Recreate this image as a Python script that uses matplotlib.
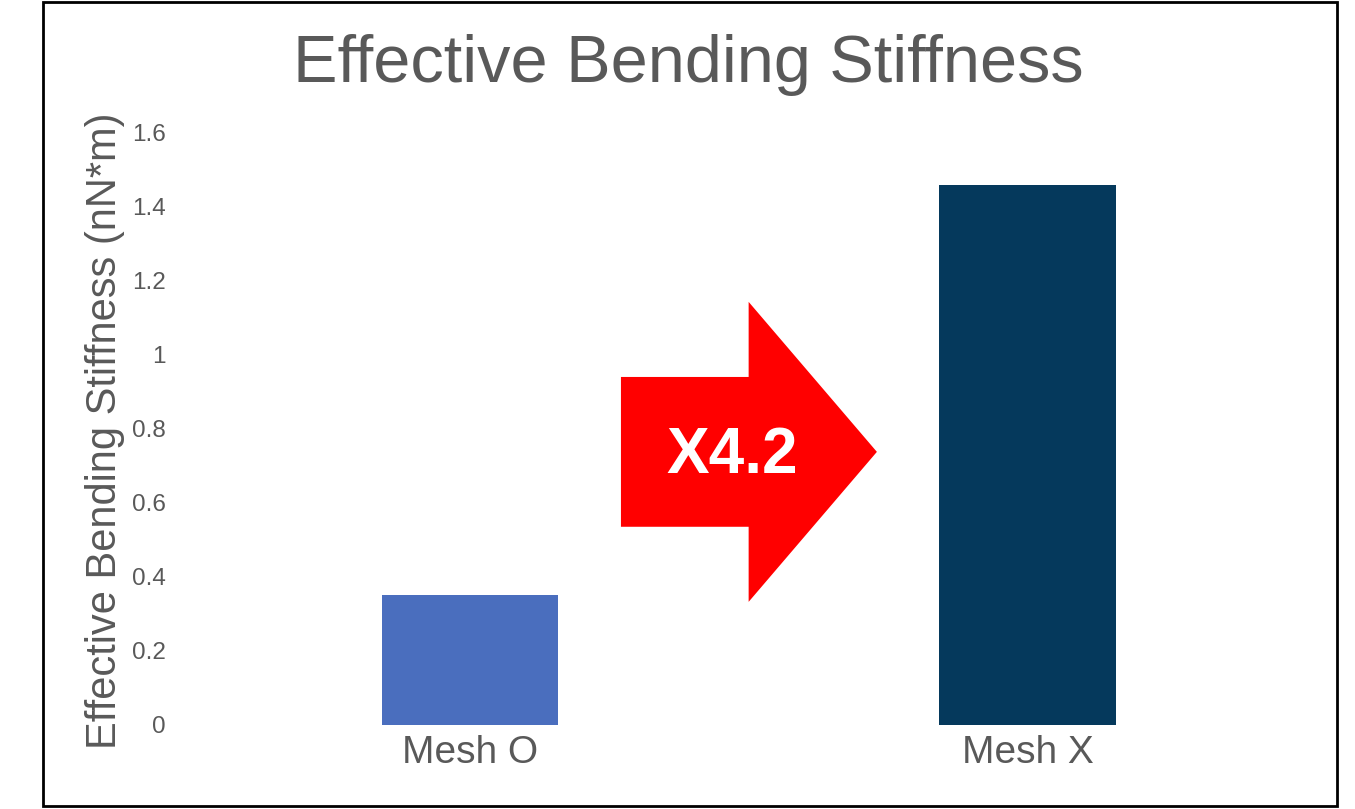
import matplotlib
matplotlib.use("Agg")
import matplotlib.pyplot as plt
from matplotlib.patches import Rectangle, FancyArrow

plt.rcParams['font.family'] = ['Liberation Sans', 'DejaVu Sans']

categories = ["Mesh O", "Mesh X"]
stiffness = [0.35, 1.46]
bar_colors = ["#4A6EBE", "#05395C"]
yticks = [0, 0.2, 0.4, 0.6, 0.8, 1.0, 1.2, 1.4, 1.6]
ytick_labels = ["0", "0.2", "0.4", "0.6", "0.8", "1", "1.2", "1.4", "1.6"]
ratio_label = "X4.2"

text_gray = "#595959"

fig = plt.figure(figsize=(13.55, 8.09), dpi=100)
ax = fig.add_axes([0.141, 0.104, 0.823, 0.7316])

x = range(len(categories))
ax.bar(x, stiffness, width=0.316, color=bar_colors)
ax.set_xlim(-0.5, 1.5)
ax.set_ylim(0, 1.6)
ax.set_xticks(list(x))
ax.set_xticklabels(categories, fontsize=28, color=text_gray)
ax.set_yticks(yticks)
ax.set_yticklabels(ytick_labels, fontsize=17.5, color=text_gray)
ax.tick_params(axis='y', length=0, pad=18)
ax.tick_params(axis='x', length=0, pad=7)
for s in ax.spines.values():
    s.set_visible(False)

ax.set_ylabel("Effective Bending Stiffness (nN*m)", fontsize=30, color=text_gray)
ax.yaxis.set_label_coords(-0.059, 0.497)

# Red block arrow between the bars with the stiffness ratio
arrow = FancyArrow(0.271, 0.738, 0.459, 0, width=0.405, head_width=0.811,
                   head_length=0.23, length_includes_head=True,
                   color="#FF0000", linewidth=0, zorder=3)
ax.add_patch(arrow)
ax.text(0.47, 0.728, ratio_label, ha='center', va='center', fontsize=46,
        fontweight='bold', color='white', zorder=4)

fig.text(0.508, 0.92, "Effective Bending Stiffness", ha='center', va='center',
         fontsize=48, color=text_gray)

# Chart border
fig.add_artist(Rectangle((43 / 1355, 1 - 806 / 809), (1337 - 43) / 1355,
                         (806 - 2) / 809, transform=fig.transFigure,
                         fill=False, edgecolor='black', linewidth=2))

fig.savefig("out.png", dpi=100, facecolor='white')
